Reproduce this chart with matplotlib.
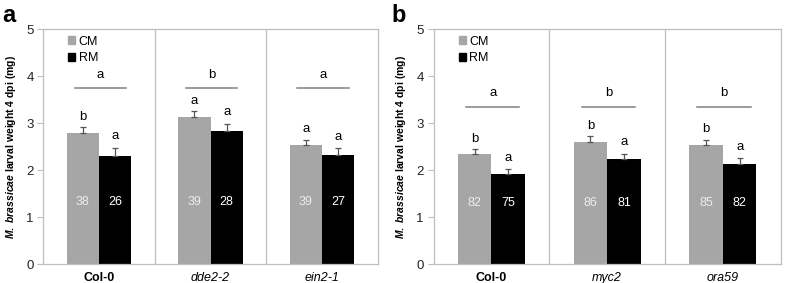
import matplotlib
matplotlib.use("Agg")
import matplotlib.pyplot as plt
from matplotlib.patches import Patch
import numpy as np

plt.rcParams["font.family"] = ["Liberation Sans", "DejaVu Sans"]
plt.rcParams["mathtext.fontset"] = "custom"
plt.rcParams["mathtext.it"] = "Liberation Sans:italic:bold"
plt.rcParams["mathtext.rm"] = "Liberation Sans:bold"

# panel a
genotypes_a = ["Col-0", "dde2-2", "ein2-1"]
cm_a = [2.78, 3.12, 2.53]
rm_a = [2.30, 2.83, 2.32]
cm_err_a = [0.14, 0.13, 0.12]
rm_err_a = [0.18, 0.16, 0.14]
cm_n_a = ["38", "39", "39"]
rm_n_a = ["26", "28", "27"]
cm_sig_a = ["b", "a", "a"]
rm_sig_a = ["a", "a", "a"]
group_sig_a = ["a", "b", "a"]

# panel b
genotypes_b = ["Col-0", "myc2", "ora59"]
cm_b = [2.35, 2.60, 2.54]
rm_b = [1.92, 2.24, 2.14]
cm_err_b = [0.09, 0.12, 0.11]
rm_err_b = [0.10, 0.11, 0.11]
cm_n_b = ["82", "86", "85"]
rm_n_b = ["75", "81", "82"]
cm_sig_b = ["b", "b", "b"]
rm_sig_b = ["a", "a", "a"]
group_sig_b = ["a", "b", "b"]

CM_COLOR = "#a6a6a6"
RM_COLOR = "#000000"
FRAME = "#bfbfbf"


def draw_panel(ax, genotypes, cm, rm, cm_err, rm_err, cm_n, rm_n,
               cm_sig, rm_sig, group_sig, line_y, letter_y, n_y):
    x = np.arange(len(genotypes))
    w = 0.29
    ax.bar(x - w / 2, cm, w, color=CM_COLOR, zorder=2)
    ax.bar(x + w / 2, rm, w, color=RM_COLOR, zorder=2)
    ax.errorbar(x - w / 2, cm, yerr=[np.zeros(3), cm_err], fmt="none",
                ecolor="#555555", elinewidth=0.9, capsize=2.5, capthick=0.9, zorder=3)
    ax.errorbar(x + w / 2, rm, yerr=[np.zeros(3), rm_err], fmt="none",
                ecolor="#555555", elinewidth=0.9, capsize=2.5, capthick=0.9, zorder=3)

    for i in range(len(genotypes)):
        ax.text(x[i] - w / 2, cm[i] + cm_err[i] + 0.22, cm_sig[i],
                ha="center", va="center", fontsize=9.5)
        ax.text(x[i] + w / 2, rm[i] + rm_err[i] + 0.24, rm_sig[i],
                ha="center", va="center", fontsize=9.5)
        ax.text(x[i] - w / 2, n_y, cm_n[i], ha="center", va="center",
                fontsize=9, color="#ececec")
        ax.text(x[i] + w / 2, n_y, rm_n[i], ha="center", va="center",
                fontsize=9, color="white")
        ax.plot([x[i] - 0.22, x[i] + 0.24], [line_y, line_y],
                color="#808080", lw=1.1)
        ax.text(x[i] + 0.01, letter_y, group_sig[i], ha="center",
                va="center", fontsize=9.5)

    for d in [0.5, 1.5]:
        ax.axvline(d, color=FRAME, lw=0.9)

    ax.set_xlim(-0.5, 2.5)
    ax.set_ylim(0, 5)
    ax.set_yticks(range(6))
    ax.set_xticks(x)
    ax.set_xticklabels(genotypes, fontsize=9)
    for i, lab in enumerate(ax.get_xticklabels()):
        if i == 0:
            lab.set_fontweight("bold")
        else:
            lab.set_fontstyle("italic")
    ax.tick_params(axis="x", length=0, pad=6)
    ax.tick_params(axis="y", length=4, color=FRAME, labelsize=9.5,
                   labelcolor="#222222", pad=3)
    for s in ax.spines.values():
        s.set_color(FRAME)
        s.set_linewidth(0.9)
    ax.set_ylabel(r"$M.\ brassicae$ larval weight 4 dpi (mg)",
                  fontsize=7.5, fontweight="bold", labelpad=6)

    handles = [Patch(color=CM_COLOR, label="CM"), Patch(color=RM_COLOR, label="RM")]
    ax.legend(handles=handles, loc="upper left", bbox_to_anchor=(0.04, 1.02),
              frameon=False, fontsize=9, handlelength=0.6, handleheight=0.6,
              handletextpad=0.25, labelspacing=0.35)


fig = plt.figure(figsize=(7.87, 2.83), dpi=100)
ax_a = fig.add_axes([0.055, 0.067, 0.425, 0.83])
ax_b = fig.add_axes([0.551, 0.067, 0.441, 0.83])

draw_panel(ax_a, genotypes_a, cm_a, rm_a, cm_err_a, rm_err_a, cm_n_a, rm_n_a,
           cm_sig_a, rm_sig_a, group_sig_a, line_y=3.74, letter_y=4.02, n_y=1.33)
draw_panel(ax_b, genotypes_b, cm_b, rm_b, cm_err_b, rm_err_b, cm_n_b, rm_n_b,
           cm_sig_b, rm_sig_b, group_sig_b, line_y=3.34, letter_y=3.64, n_y=1.3)

fig.text(0.003, 0.985, "a", fontsize=17, fontweight="bold", va="top", ha="left")
fig.text(0.497, 0.985, "b", fontsize=17, fontweight="bold", va="top", ha="left")

fig.savefig("out.png", dpi=100)
